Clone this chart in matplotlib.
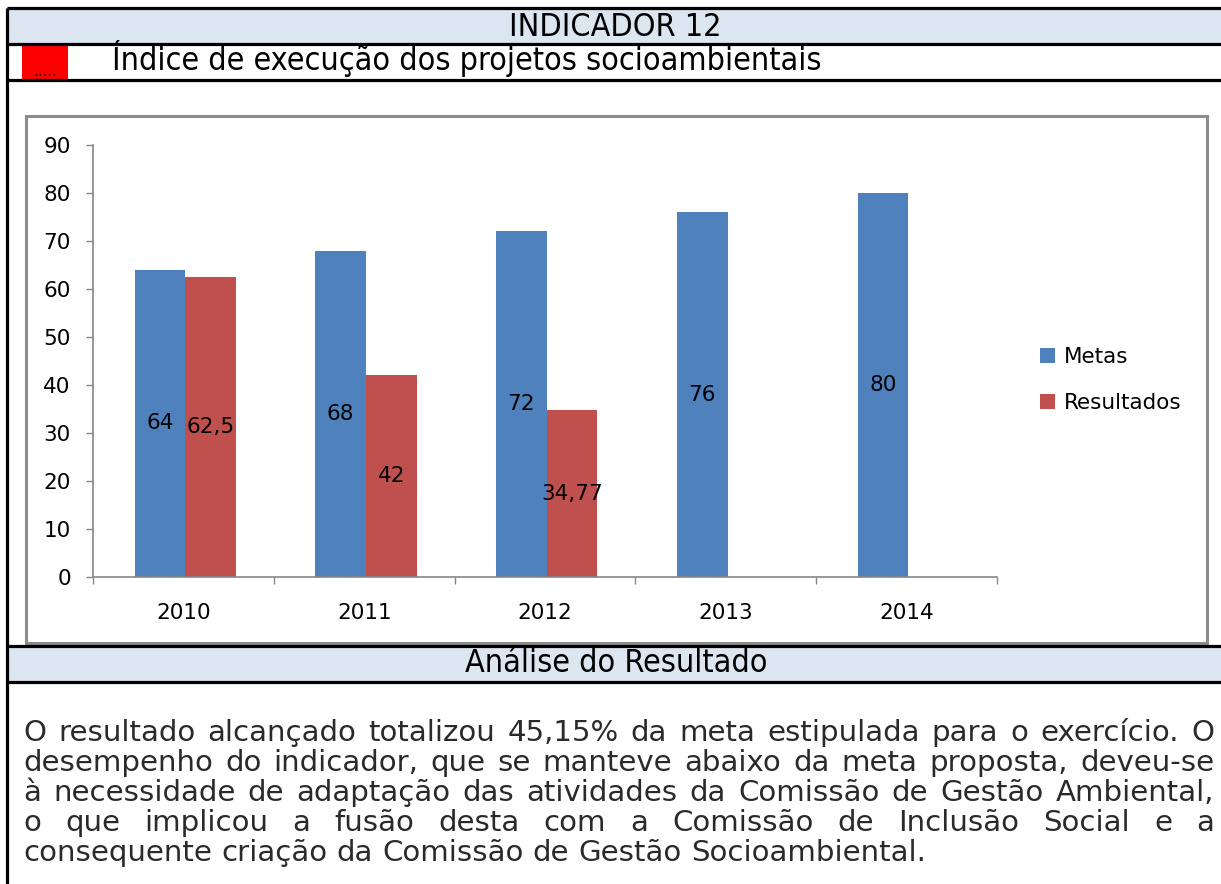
import numpy as np
import matplotlib
matplotlib.use("Agg")
import matplotlib.pyplot as plt
from matplotlib import font_manager
from matplotlib.patches import Rectangle

# ---------------- data ----------------
categories = ["2010", "2011", "2012", "2013", "2014"]
metas = [64, 68, 72, 76, 80]
resultados = [62.5, 42, 34.77, np.nan, np.nan]
series_names = ["Metas", "Resultados"]
yticks = [0, 10, 20, 30, 40, 50, 60, 70, 80, 90]

title = "INDICADOR 12"
subtitle = "Índice de execução dos projetos socioambientais"
section = "Análise do Resultado"
paragraph_lines = [
    "O resultado alcançado totalizou 45,15% da meta estipulada para o exercício. O",
    "desempenho do indicador, que se manteve abaixo da meta proposta, deveu-se",
    "à necessidade de adaptação das atividades da Comissão de Gestão Ambiental,",
    "o que implicou a fusão desta com a Comissão de Inclusão Social e a",
    "consequente criação da Comissão de Gestão Socioambiental.",
]

BLUE = "#4F81BD"
RED = "#C0504D"
BAND = "#DCE6F1"
GRAY = "#868686"

W, H = 1221, 884
fig = plt.figure(figsize=(W / 100, H / 100), dpi=100)
renderer = fig.canvas.get_renderer()

# condensed font for headers if available
HEAD_FAMILY = ["DejaVu Sans"]
HEAD_STRETCH = "normal"
for fam, st in [("Liberation Sans Narrow", "normal"), ("DejaVu Sans", "condensed")]:
    try:
        p = font_manager.findfont(font_manager.FontProperties(family=fam, stretch=st),
                                  fallback_to_default=False)
        if fam == "Liberation Sans Narrow" or "ondensed" in p:
            HEAD_FAMILY = [fam]
            HEAD_STRETCH = st
            break
    except Exception:
        pass

# overlay in pixel coordinates
ov = fig.add_axes([0, 0, 1, 1])
ov.set_xlim(0, W)
ov.set_ylim(H, 0)
ov.axis("off")
ov.set_zorder(-1)

def text_width(s, size, family, stretch="normal"):
    t = ov.text(0, 0, s, fontsize=size, family=family, fontstretch=stretch)
    w = t.get_window_extent(renderer).width
    t.remove()
    return w

# bands and lines
for y0, y1 in [(8, 44), (646, 682)]:
    ov.add_patch(Rectangle((7, y0), W - 7, y1 - y0, facecolor=BAND, edgecolor="none"))
for y in [8, 44, 80, 646, 682]:
    ov.plot([7, W], [y, y], color="black", lw=2.3, solid_capstyle="butt")
ov.plot([7, 7], [8, H], color="black", lw=2.3, solid_capstyle="butt")

# red box
ov.add_patch(Rectangle((22, 46), 46, 33, facecolor="#FF0000", edgecolor="none"))
ov.text(45, 76, ".....", fontsize=12, color="#200000", ha="center", va="baseline",
        family=["DejaVu Sans"], fontstretch="condensed", zorder=5)

# header texts
hs = 20 * 708 / text_width(subtitle, 20, HEAD_FAMILY, HEAD_STRETCH)
hkw = dict(fontsize=hs, family=HEAD_FAMILY, fontstretch=HEAD_STRETCH)
ov.text(615, 27, title, ha="center", va="center", **hkw)
ov.text(112, 70, subtitle, ha="left", va="baseline", **hkw)
ov.text(616, 664, section, ha="center", va="center", **hkw)

# chart frame
ov.add_patch(Rectangle((26, 116), 1207 - 26, 643 - 116, facecolor="white",
                       edgecolor="#8C8C8C", lw=2.2))

# paragraph (justified)
PF = ["DejaVu Sans"]
ps = 20 * 902 / text_width(paragraph_lines[-1], 20, PF)
x0, x1 = 23, 1214
baselines = [741, 771, 801, 831, 861]
space_w = text_width("a a", ps, PF) - text_width("aa", ps, PF)
for i, (line, yb) in enumerate(zip(paragraph_lines, baselines)):
    words = line.split(" ")
    widths = [text_width(w, ps, PF) for w in words]
    if i < len(paragraph_lines) - 1:
        gap = (x1 - x0 - sum(widths)) / (len(words) - 1)
    else:
        gap = space_w
    x = x0
    for w, wd in zip(words, widths):
        ov.text(x, yb, w, fontsize=ps, family=PF, color="#2a2a2a", ha="left", va="baseline")
        x += wd + gap

# ---------------- chart ----------------
ax = fig.add_axes([93 / W, (H - 577) / H, (997 - 93) / W, (577 - 145) / H])
ax.set_zorder(1)
ax.patch.set_alpha(0)
x = np.arange(len(categories))
bw = 0.28
ax.bar(x - bw / 2 + 0.01, metas, bw, color=BLUE, label=series_names[0])
ax.bar(x + bw / 2 + 0.01, resultados, bw, color=RED, label=series_names[1])

def fmt(v):
    return f"{v:g}".replace(".", ",")

for xi, v in zip(x, metas):
    ax.text(xi - bw / 2 + 0.01, v / 2, fmt(v), ha="center", va="center", fontsize=15.5)
for xi, v in zip(x, resultados):
    if not np.isnan(v):
        ax.text(xi + bw / 2 + 0.01, v / 2, fmt(v), ha="center", va="center", fontsize=15.5)

ax.set_xlim(-0.5, len(categories) - 0.5)
ax.set_ylim(0, 90)
ax.set_yticks(yticks)
ax.set_yticklabels([str(t) for t in yticks])
ax.set_xticks(np.arange(-0.5, len(categories)), minor=False)
ax.set_xticklabels([])
ax.set_xticks(x, minor=True)
ax.set_xticklabels(categories, minor=True)
ax.tick_params(axis="x", which="major", length=5, width=1, color=GRAY, direction="out")
ax.tick_params(axis="x", which="minor", length=0, pad=19, labelsize=15.5)
ax.tick_params(axis="y", length=5, width=1, color=GRAY, direction="out", pad=11, labelsize=15.5)
for s in ["top", "right"]:
    ax.spines[s].set_visible(False)
for s in ["left", "bottom"]:
    ax.spines[s].set_color(GRAY)
    ax.spines[s].set_linewidth(1.2)

ax.legend(loc="center left", bbox_to_anchor=(1040 / W, 1 - 380 / H),
          bbox_transform=fig.transFigure, frameon=False, fontsize=15.5,
          handlelength=0.7, handleheight=0.7, handletextpad=0.4,
          labelspacing=1.2, borderpad=0, borderaxespad=0)

fig.savefig("out.png", dpi=100)
